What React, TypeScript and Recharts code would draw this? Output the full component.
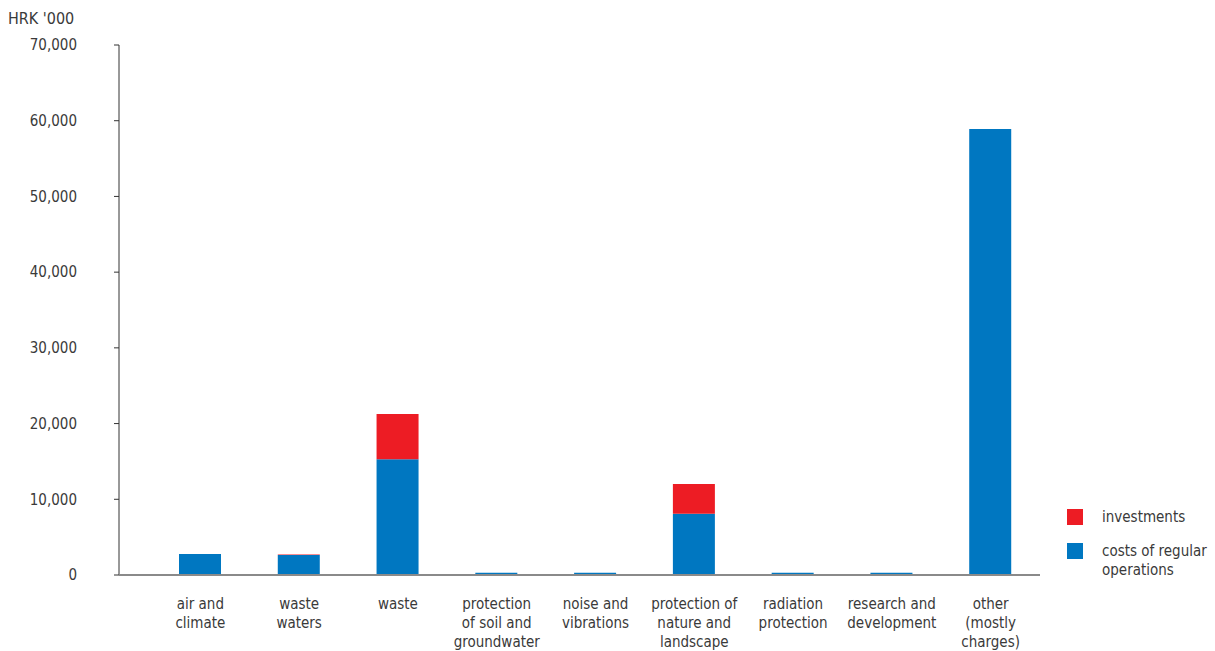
import React from 'react';
import { BarChart, Bar, XAxis, YAxis } from 'recharts';

const categories = [
  'air and\nclimate',
  'waste\nwaters',
  'waste',
  'protection\nof soil and\ngroundwater',
  'noise and\nvibrations',
  'protection of\nnature and\nlandscape',
  'radiation\nprotection',
  'research and\ndevelopment',
  'other\n(mostly\ncharges)',
];
const regularCosts = [2770, 2640, 15280, 300, 300, 8100, 300, 300, 58900];
const investments = [0, 80, 5990, 0, 0, 3920, 0, 0, 0];
const yTicks = [0, 10000, 20000, 30000, 40000, 50000, 60000, 70000];

const data = categories.map((name, i) => ({
  name,
  costs: regularCosts[i],
  investments: investments[i],
}));

const FONT = "'Liberation Sans Narrow', 'DejaVu Sans Condensed', sans-serif";
const BLUE = '#0077c1';
const RED = '#ed1c24';
const TEXT = '#3a3a3a';

const CategoryTick = ({ x, y, payload }) => {
  const lines = String(payload.value).split('\n');
  return (
    <text x={x} y={y + 26} textAnchor="middle" fill={TEXT} fontSize={15} fontFamily={FONT}>
      {lines.map((l, i) => (
        <tspan key={i} x={x} dy={i === 0 ? 0 : 19}>
          {l}
        </tspan>
      ))}
    </text>
  );
};

const legendItems = [
  { label: ['investments'], color: RED },
  { label: ['costs of regular', 'operations'], color: BLUE },
];

const LegendBox = () => (
  <div
    style={{
      position: 'absolute',
      left: 1067,
      top: 509,
      width: 148,
      fontFamily: FONT,
      fontSize: 15,
      color: TEXT,
    }}
  >
    {legendItems.map((it, i) => (
      <div key={i} style={{ display: 'flex', alignItems: 'flex-start', marginBottom: 16 }}>
        <div style={{ width: 16, height: 16, background: it.color, marginRight: 19, flexShrink: 0 }} />
        <div style={{ lineHeight: '19px', marginTop: -1 }}>
          {it.label.map((t, j) => (
            <div key={j}>{t}</div>
          ))}
        </div>
      </div>
    ))}
  </div>
);

export default function App() {
  return (
    <div style={{ position: 'absolute', left: 0, top: 0, width: 1215, height: 651, background: '#fff' }}>
      <div
        style={{
          position: 'absolute',
          left: 8,
          top: 9,
          fontFamily: FONT,
          fontSize: 16,
          color: TEXT,
        }}
      >
        HRK '000
      </div>
      <BarChart
        width={1215}
        height={651}
        data={data}
        margin={{ top: 45, right: 175, bottom: 6, left: 0 }}
        barSize={42}
      >
        <YAxis
          width={119}
          domain={[0, 70000]}
          ticks={yTicks}
          interval={0}
          tickFormatter={(v) => v.toLocaleString('en-US')}
          tick={{ fill: TEXT, fontSize: 15, fontFamily: FONT }}
          tickSize={5}
          tickMargin={37}
          axisLine={{ stroke: '#333', strokeWidth: 1 }}
          tickLine={{ stroke: '#333', strokeWidth: 1 }}
        />
        <XAxis
          dataKey="name"
          height={70}
          interval={0}
          padding={{ left: 32, right: 0 }}
          tick={<CategoryTick />}
          tickLine={false}
          axisLine={{ stroke: '#8a8a8a', strokeWidth: 2 }}
        />
        <Bar dataKey="costs" stackId="a" fill={BLUE} isAnimationActive={false} />
        <Bar dataKey="investments" stackId="a" fill={RED} isAnimationActive={false} />
      </BarChart>
      <LegendBox />
    </div>
  );
}
